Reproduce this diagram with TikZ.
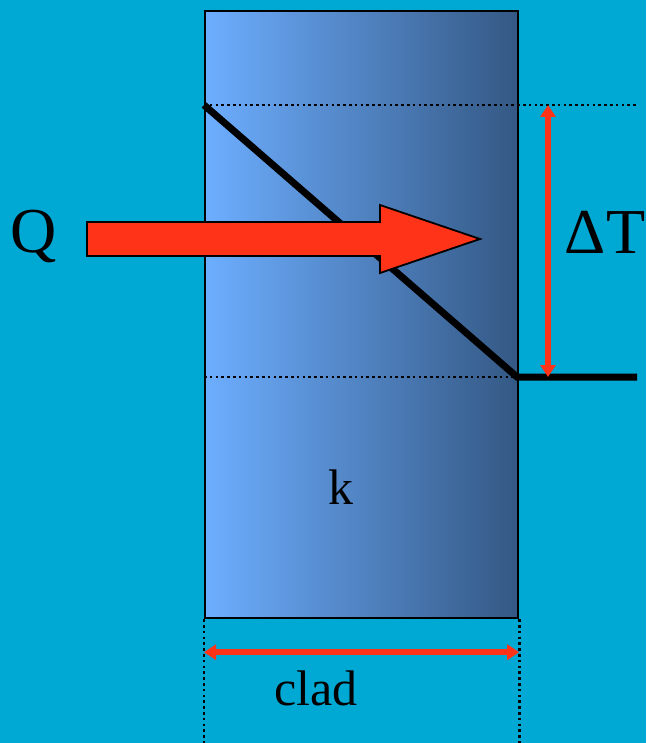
\documentclass[tikz,border=0pt]{standalone}
\usepackage{fontspec}
\setmainfont{Liberation Serif}
\usepackage{xcolor}
\definecolor{slidecyan}{HTML}{00A8D4}
\definecolor{slablight}{HTML}{6DAEFF}
\definecolor{slabdark}{HTML}{345884}
\definecolor{heatred}{HTML}{FF3318}
\usetikzlibrary{arrows.meta, positioning, calc}
\tikzset{
  slab/.style ={rectangle, draw=black, line width=2.2pt, left color=slablight, right color=slabdark,
                minimum width=313pt, minimum height=607pt, inner sep=0pt},
  guide/.style ={line width=2.6pt, dash pattern=on 2.6pt off 3.2pt, color=black},
  profile/.style ={line width=7pt, color=black},
  dimarr/.style ={{Triangle[length=12pt, width=15pt]}-{Triangle[length=12pt, width=15pt]}, line width=5.5pt, color=heatred},
  flux/.style ={fill=heatred, draw=black, line width=1.8pt},
  biglbl/.style ={font=\fontsize{64}{68}\selectfont, text=black, inner sep=0pt},
  midlbl/.style ={font=\fontsize{50}{54}\selectfont, text=black, inner sep=0pt},
}
\begin{document}
\begin{tikzpicture}[x=1pt, y=-1pt]
  \fill[slidecyan] (0,0) rectangle (646,743);
  \useasboundingbox (0,0) rectangle (646,743);
  \node[slab, anchor=north west] (wall) at (204,10) {};
  % temperature levels
  \coordinate (hot) at (204,105);
  \coordinate (cold) at (517,377);
  \coordinate (hotend) at (637,105);
  \coordinate (coldend) at (637,377);
  \draw[guide] (hot) -- (hotend);
  \draw[guide] (wall.west |- cold) -- (cold);
  \draw[guide] (wall.south west) -- ++(0,126) coordinate (leftfoot);
  \draw[guide] (wall.south east) -- ++(0,126) coordinate (rightfoot);
  \draw[profile] (hot) -- (cold) -- (coldend);
  % heat flow
  \draw[flux] (87,222) -- (380,222) -- (380,205) -- (480,239) -- (380,273) -- (380,256) -- (87,256) -- cycle;
  \node[biglbl] (q) at (34,236) {Q};
  % dimensions
  \coordinate (dtop) at (548,105);
  \coordinate (dbot) at (548,377);
  \draw[dimarr] (dtop) -- (dbot);
  \draw[dimarr] ($(wall.south west)+(0,33)$) coordinate (cl) -- ($(wall.south east)+(0,33)$) coordinate (cr);
  \node[biglbl] (dt) at (605,232) {ΔT};
  \node[midlbl] (kk) at (341,487) {k};
  \node[midlbl] (cladlbl) at (316,688) {clad};
\end{tikzpicture}
\end{document}
